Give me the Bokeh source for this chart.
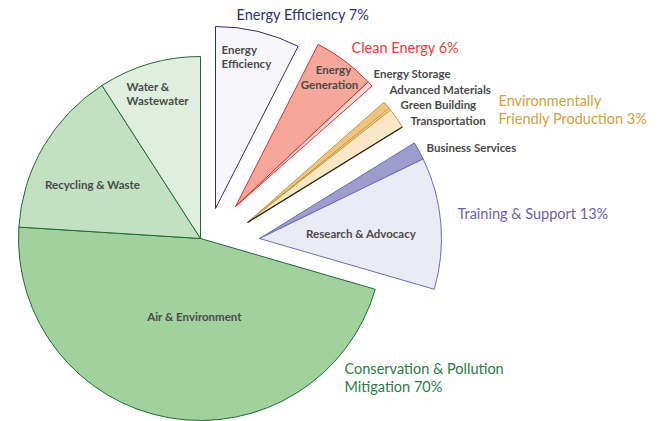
import math
from bokeh.plotting import figure
from bokeh.models import Range1d, ColumnDataSource
from bokeh.core.properties import value
from bokeh.embed import file_html
from bokeh.resources import INLINE

# ---------------- data ----------------
groups = ["Energy Efficiency", "Clean Energy", "Environmentally Friendly Production",
          "Training & Support", "Conservation & Pollution Mitigation"]
group_titles = [["Energy Efficiency 7%"], ["Clean Energy 6%"],
                ["Environmentally", "Friendly Production 3%"],
                ["Training & Support 13%"],
                ["Conservation & Pollution", "Mitigation 70%"]]
subcategories = ["Energy Efficiency", "Energy Generation", "Energy Storage",
                 "Advanced Materials", "Green Building", "Transportation",
                 "Business Services", "Research & Advocacy",
                 "Air & Environment", "Recycling & Waste", "Water & Wastewater"]
sub_group = [0, 1, 1, 2, 2, 2, 3, 3, 4, 4, 4]
sub_values = [7.5, 5.5, 0.5, 0.7, 0.2, 1.8, 1.6, 11.7, 46.5, 14.9, 9.1]

# ---------------- styles / layout ----------------
W, H = 662, 421
R = 182
# apex of each exploded group (image pixel coords)
group_apex = [(215, 208), (235, 206), (247, 222), (259, 238), (200, 238)]
group_line = ["#2d2e6e", "#e52d2d", "#c99a3e", "#6b6bbd", "#1f6b36"]
group_text = ["#2e3175", "#ee3b33", "#d5a03a", "#6a5fae", "#2a7d45"]
sub_fill = ["#f6f6fb", "#f5a899", "#fcdcd6", "#f0c47e", "#f3d39c", "#fae7c6",
            "#9c9dcd", "#ebebf5", "#a1d29d", "#c1e1c0", "#deefdd"]

def Y(y):
    return H - y

total = sum(sub_values)
starts, ends, xs, ys, lines = [], [], [], [], []
cum = 0.0
for v, g in zip(sub_values, sub_group):
    t0 = cum / total * 360.0
    cum += v
    t1 = cum / total * 360.0
    starts.append(math.radians(90 - t0))
    ends.append(math.radians(90 - t1))
    ax, ay = group_apex[g]
    xs.append(ax)
    ys.append(Y(ay))
    lines.append(group_line[g])

src = ColumnDataSource(dict(x=xs, y=ys, start=starts, end=ends,
                            fill=sub_fill, line=lines, name=subcategories))

p = figure(width=W, height=H, x_range=Range1d(0, W), y_range=Range1d(0, H),
           x_axis_type=None, y_axis_type=None, toolbar_location=None,
           output_backend="svg", min_border=0, outline_line_color=None)
p.grid.visible = False
p.background_fill_color = "white"

p.wedge(x="x", y="y", radius=R, start_angle="start", end_angle="end",
        direction="clock", fill_color="fill", line_color="line", line_width=1,
        source=src)

# dark lower edge of Transportation
ti = subcategories.index("Transportation")
ang = ends[ti]
p.segment(x0=[xs[ti]], y0=[ys[ti]], x1=[xs[ti] + R * math.cos(ang)],
          y1=[ys[ti] + R * math.sin(ang)], line_color="#222222", line_width=1.2)

# inner labels (image coords)
inner_labels = [
    ("Energy", 221, 49, "left"), ("Efficiency", 221, 63, "left"),
    ("Energy", 333, 69, "center"), ("Generation", 329, 84, "center"),
    ("Energy Storage", 373, 73, "left"),
    ("Advanced Materials", 389, 89, "left"),
    ("Green Building", 400, 104, "left"),
    ("Transportation", 410, 120, "left"),
    ("Business Services", 426, 147, "left"),
    ("Research &  Advocacy", 362, 233, "center"),
    ("Water &", 126, 86, "left"), ("Wastewater", 126, 100, "left"),
    ("Recycling & Waste", 92, 184, "center"),
    ("Air & Environment", 194, 316, "center"),
]
for txt, x, y, al in inner_labels:
    p.text(x=[x], y=[Y(y)], text=[txt], text_align=al, text_baseline="middle",
           text_font=value("Lato"), text_font_style="bold",
           text_font_size="11.5px", text_color="#4a4a4a")

title_pos = [[(236, 14)], [(351, 47)], [(498, 100), (498, 118)],
             [(457, 213)], [(344, 368), (344, 386)]]
for g, (titles, poss) in enumerate(zip(group_titles, title_pos)):
    for t, (x, y) in zip(titles, poss):
        p.text(x=[x], y=[Y(y)], text=[t], text_align="left", text_baseline="middle",
               text_font=value("Lato"), text_font_size="14.5px", text_color=group_text[g])

open("out.html", "w").write(file_html(p, INLINE))
